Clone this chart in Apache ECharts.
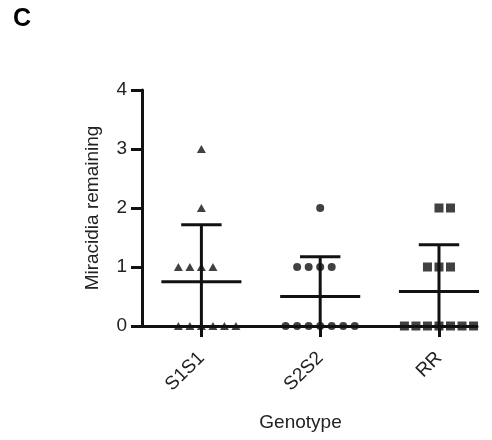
<!DOCTYPE html>
<html>
<head>
<meta charset="utf-8">
<script src="https://cdn.jsdelivr.net/npm/echarts@6/dist/echarts.min.js"></script>
<style>
html,body{margin:0;padding:0;background:#fff;}
#chart{width:492px;height:440px;}
</style>
</head>
<body>
<div id="chart"></div>
<script>
// ---- data ----
const categories = ['S1S1', 'S2S2', 'RR'];
const s1s1 = [0, 0, 0, 0, 0, 0, 1, 1, 1, 1, 2, 3];
const s2s2 = [0, 0, 0, 0, 0, 0, 0, 1, 1, 1, 1, 2];
const rr   = [0, 0, 0, 0, 0, 0, 0, 1, 1, 1, 2, 2];
const yTicks = [0, 1, 2, 3, 4];
const groups = [s1s1, s2s2, rr];
const symbols = ['triangle', 'circle', 'rect'];

// ---- layout helpers ----
const INK = '#111';
const TXT = '#222';
const FONT = '"Liberation Sans", Arial, sans-serif';
const step = 0.097;          // horizontal spacing of stacked points (axis units)
const startSlot = {1: 0, 2: 0, 3: -1, 4: -2, 5: -2, 6: -2, 7: -3, 8: -3};

function scatterData(vals, ci) {
  const counts = {};
  vals.forEach(v => counts[v] = (counts[v] || 0) + 1);
  const out = [];
  Object.keys(counts).forEach(k => {
    const n = counts[k];
    const s = startSlot[n] !== undefined ? startSlot[n] : -Math.floor((n - 1) / 2);
    for (let j = 0; j < n; j++) out.push([ci + 1 + (s + j) * step, Number(k)]);
  });
  return out;
}
function meanSd(vals) {
  const m = vals.reduce((a, b) => a + b, 0) / vals.length;
  const v = vals.reduce((a, b) => a + (b - m) * (b - m), 0) / (vals.length - 1);
  return [m, Math.sqrt(v)];
}

const series = groups.map((g, i) => ({
  type: 'scatter',
  data: scatterData(g, i),
  symbol: symbols[i],
  symbolSize: i === 0 ? [9, 8] : (i === 1 ? 8 : 9),
  itemStyle: {color: INK},
  z: 3,
  silent: true
}));

const errData = groups.map((g, i) => { const ms = meanSd(g); return [i + 1, ms[0], ms[1]]; });
series.push({
  type: 'custom',
  data: errData,
  z: 4,
  silent: true,
  renderItem: function (params, api) {
    const x = api.value(0), m = api.value(1), sd = api.value(2);
    const style = {stroke: INK, lineWidth: 3, fill: null};
    const a = api.coord([x - 0.337, m]), b = api.coord([x + 0.337, m]);
    const c1 = api.coord([x - 0.17, m + sd]), c2 = api.coord([x + 0.17, m + sd]);
    const t = api.coord([x, m + sd]), bt = api.coord([x, Math.max(0, m - sd)]);
    return {
      type: 'group',
      children: [
        {type: 'line', shape: {x1: a[0], y1: a[1], x2: b[0], y2: b[1]}, style: style},
        {type: 'line', shape: {x1: c1[0], y1: c1[1], x2: c2[0], y2: c2[1]}, style: style},
        {type: 'line', shape: {x1: t[0], y1: t[1], x2: bt[0], y2: bt[1]}, style: style}
      ]
    };
  }
});

const chart = echarts.init(document.getElementById('chart'), null, {renderer: 'canvas'});
chart.setOption({
  animation: false,
  backgroundColor: '#fff',
  textStyle: {fontFamily: FONT},
  title: {
    text: 'C', left: 8, top: 2,
    textStyle: {fontSize: 25, fontWeight: 'bold', color: '#000', fontFamily: FONT}
  },
  grid: {left: 142, right: 15, top: 90, bottom: 114, containLabel: false},
  xAxis: {
    type: 'value',
    min: 0.5, max: 3.32,
    name: 'Genotype',
    nameLocation: 'middle',
    nameGap: 87,
    nameTextStyle: {fontSize: 19, color: TXT, padding: [0, 18, 0, 0], fontFamily: FONT},
    axisLine: {lineStyle: {color: INK, width: 3}},
    axisTick: {show: true, customValues: [1, 2, 3], length: 11, lineStyle: {color: INK, width: 3}},
    axisLabel: {
      customValues: [1, 2, 3],
      formatter: v => categories[Math.round(v) - 1],
      rotate: 45, margin: 29, fontSize: 19, color: TXT, fontFamily: FONT
    },
    splitLine: {show: false}
  },
  yAxis: {
    type: 'value',
    min: yTicks[0], max: yTicks[yTicks.length - 1], interval: 1,
    name: 'Miracidia remaining',
    nameLocation: 'middle',
    nameGap: 40,
    nameRotate: 90,
    nameTextStyle: {fontSize: 19, color: TXT, fontFamily: FONT},
    axisLine: {show: true, lineStyle: {color: INK, width: 3}},
    axisTick: {show: true, length: 11, lineStyle: {color: INK, width: 3}},
    axisLabel: {fontSize: 19, color: TXT, margin: 15, fontFamily: FONT},
    splitLine: {show: false}
  },
  series: series
});
</script>
</body>
</html>
